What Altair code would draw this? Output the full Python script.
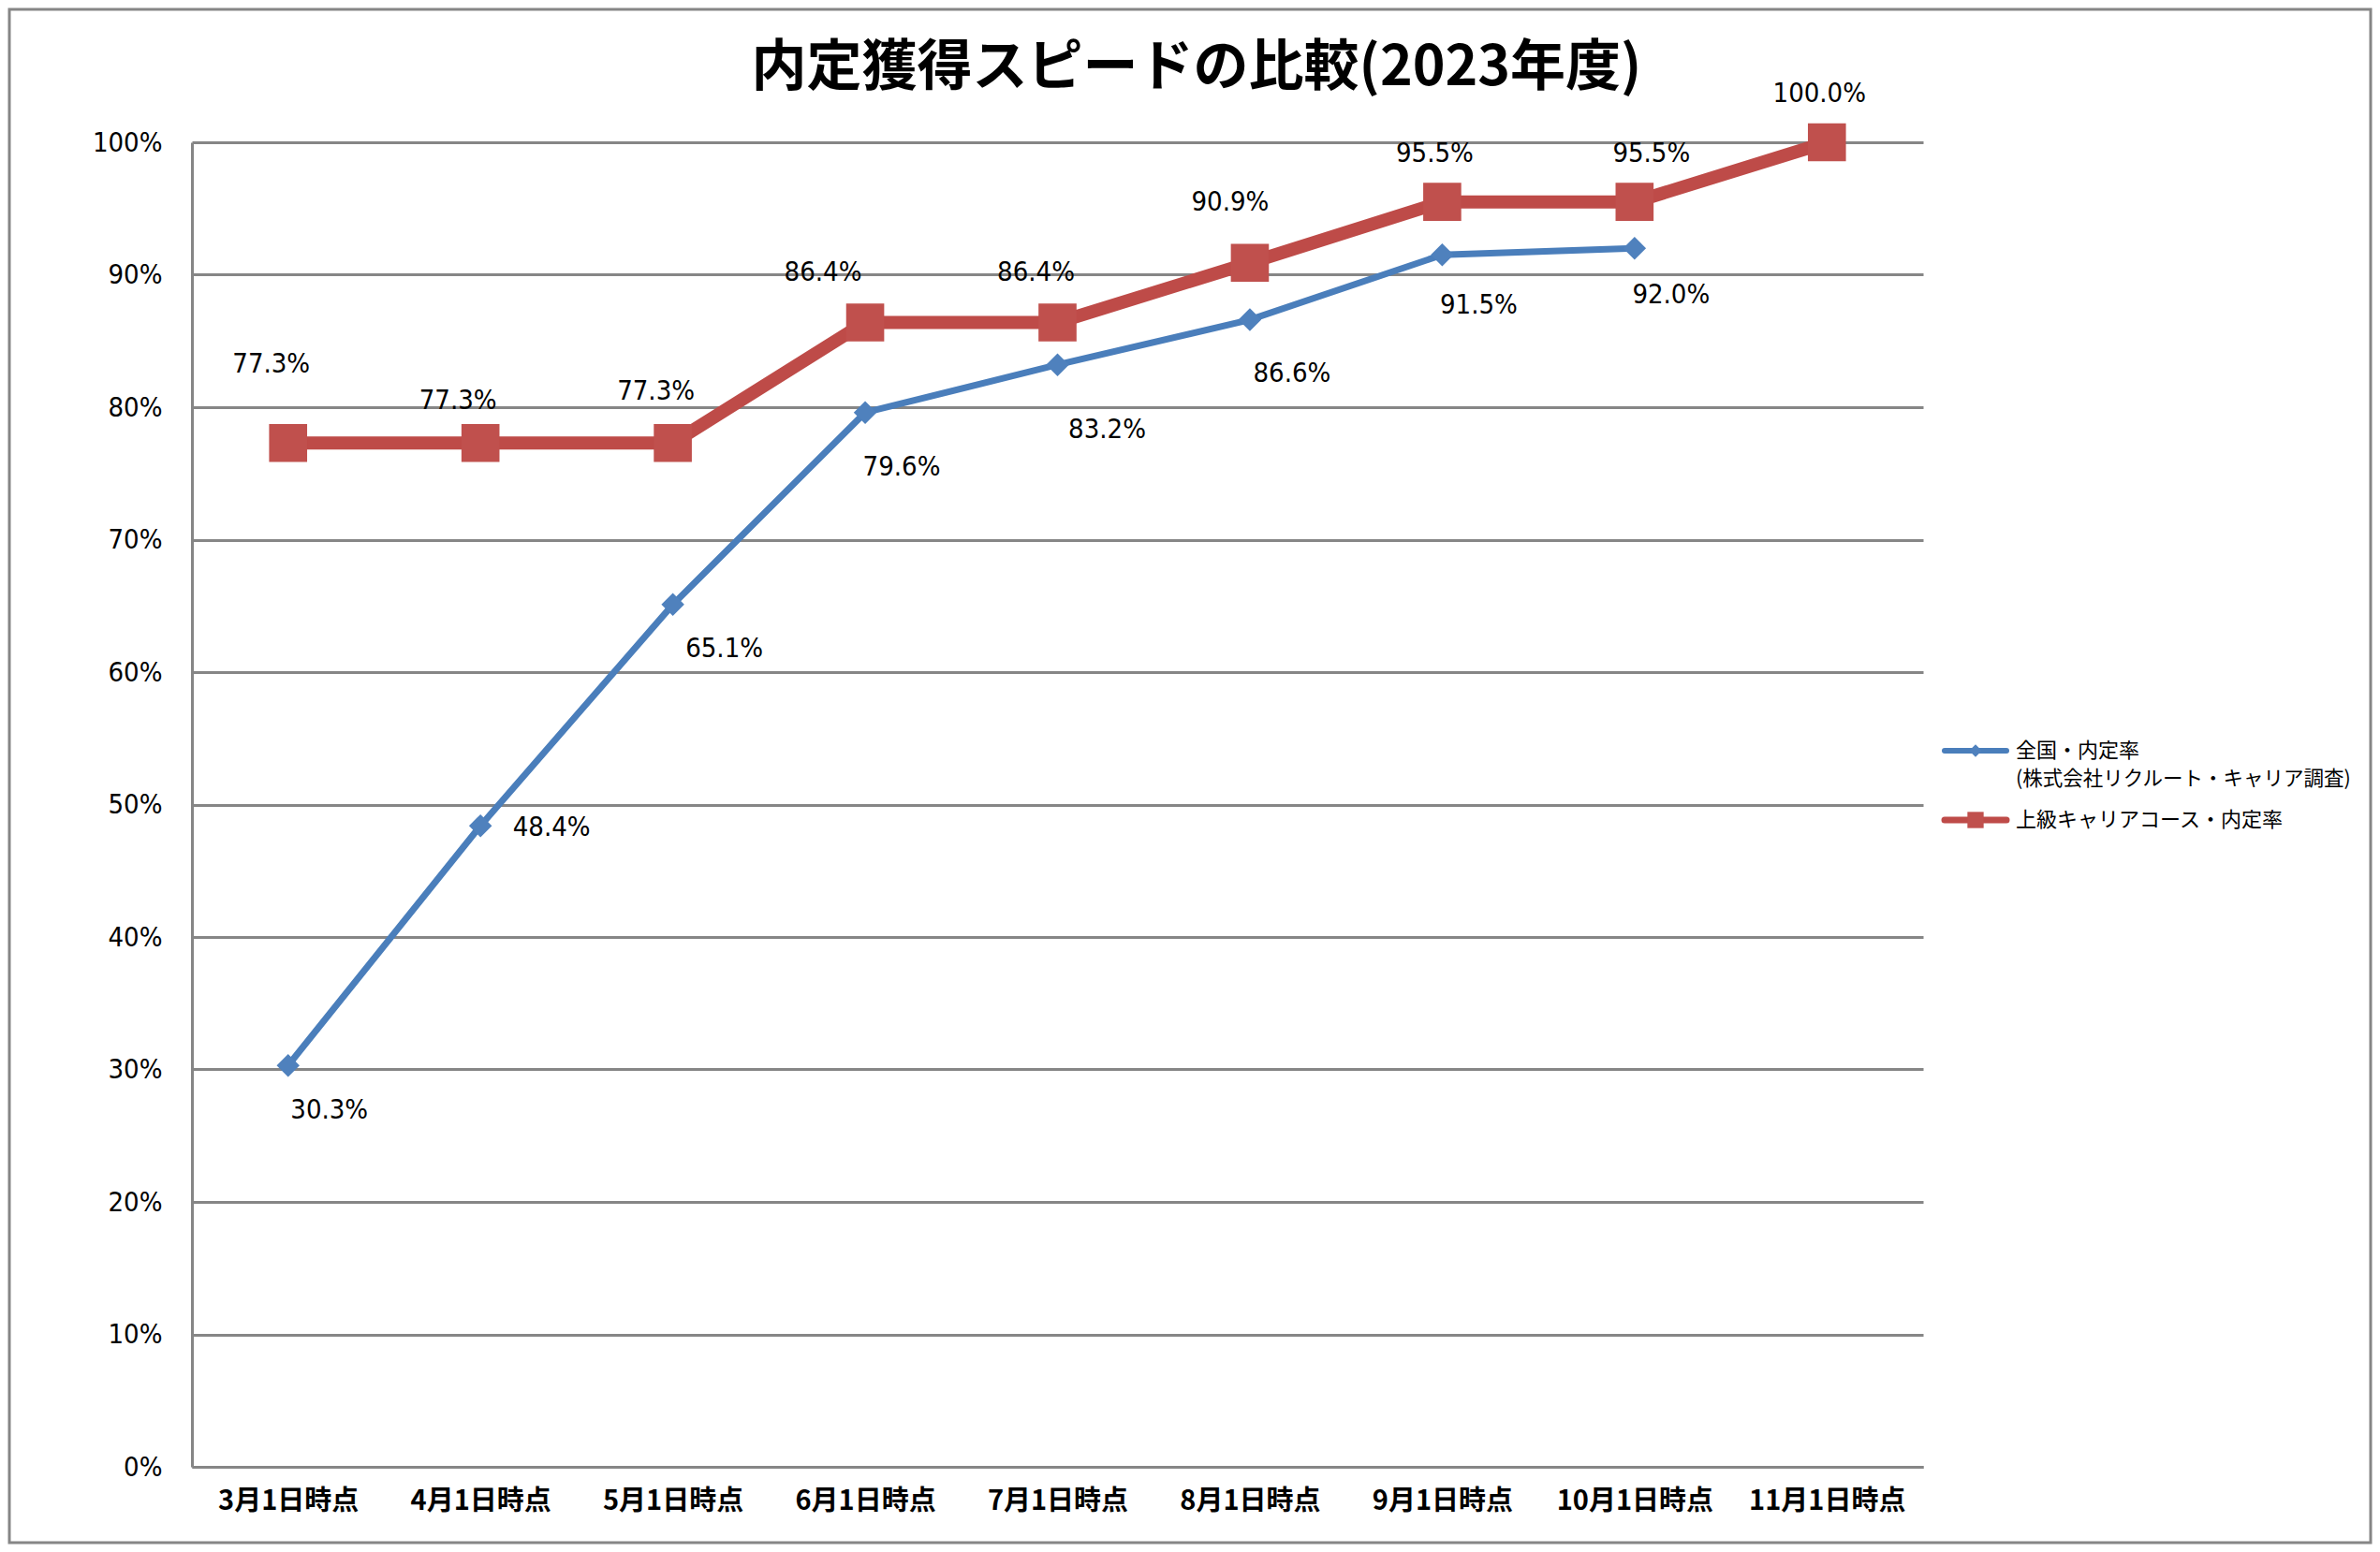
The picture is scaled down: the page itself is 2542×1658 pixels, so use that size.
import altair as alt
import pandas as pd

# ---------------- data ----------------
categories = ["3月1日時点", "4月1日時点", "5月1日時点", "6月1日時点", "7月1日時点",
              "8月1日時点", "9月1日時点", "10月1日時点", "11月1日時点"]
national_values = [0.303, 0.484, 0.651, 0.796, 0.832, 0.866, 0.915, 0.920]
advanced_values = [0.773, 0.773, 0.773, 0.864, 0.864, 0.909, 0.955, 0.955, 1.000]
series_national = ["全国・内定率", "(株式会社リクルート・キャリア調査)"]
series_advanced = "上級キャリアコース・内定率"
title_text = "内定獲得スピードの比較(2023年度)"
y_ticks = [0, 0.1, 0.2, 0.3, 0.4, 0.5, 0.6, 0.7, 0.8, 0.9, 1.0]

# data-label placement offsets in pixels (layout only)
national_label_dx = [44, 76, 55, 39, 53, 45, 39, 39]
national_label_dy = [48, 2, 47, 58, 69, 57, 54, 50]
advanced_label_dx = [-18, -24, -18, -45, -23, -21, -8, 18, -8]
advanced_label_dy = [-84, -45, -55, -53, -53, -65, -52, -52, -52]

# ---------------- styles ----------------
BLUE_LINE = "#4A7EBB"
BLUE_MARK = "#4F81BD"
RED_LINE = "#BE4B48"
RED_MARK = "#C0504D"
GRID = "#868686"
NUM_FONT = "DejaVu Sans Condensed, DejaVu Sans"
JP_FONT = "Noto Sans CJK JP"

W, H = 1849, 1415

nat_df = pd.DataFrame({
    "cat": categories[:len(national_values)],
    "value": national_values,
    "dx": national_label_dx,
    "dy": national_label_dy,
})
adv_df = pd.DataFrame({
    "cat": categories,
    "value": advanced_values,
    "dx": advanced_label_dx,
    "dy": advanced_label_dy,
})

y_scale = alt.Scale(domain=[0, 1], nice=False, zero=True)
y_axis = alt.Axis(
    title=None, values=y_ticks, format=".0%", ticks=False,
    grid=True, gridColor=GRID, gridWidth=3,
    domainColor=GRID, domainWidth=3,
    labelFont=NUM_FONT, labelFontSize=29, labelColor="#000000",
    labelPadding=32,
)

x_enc = alt.X(
    "cat:N",
    sort=categories,
    scale=alt.Scale(type="point", domain=categories, padding=0.5),
    axis=alt.Axis(
        title=None, labelAngle=0, ticks=False, grid=False,
        domainColor=GRID, domainWidth=3,
        labelFont=JP_FONT, labelFontSize=29, labelFontWeight="bold",
        labelColor="#000000", labelPadding=22, labelOverlap=False, labelFlush=False,
    ),
)
y_enc = alt.Y("value:Q", scale=y_scale, axis=y_axis)
y_label_enc = alt.Y("label_y:Q", scale=y_scale, axis=y_axis)

nat_base = alt.Chart(nat_df).encode(x=x_enc, y=y_enc)
adv_base = alt.Chart(adv_df).encode(x=x_enc, y=y_enc)


def labels(df):
    return alt.Chart(df).transform_calculate(
        label_y=f"datum.value - datum.dy / {H}"
    ).mark_text(font=NUM_FONT, fontSize=29, color="#000000",
                align="center", baseline="middle").encode(
        x=x_enc,
        y=y_label_enc,
        text=alt.Text("value:Q", format=".1%"),
        xOffset=alt.XOffset("dx:Q", scale=None),
    )


nat_line = nat_base.mark_line(color=BLUE_LINE, strokeWidth=7)
nat_pts = nat_base.mark_point(shape="diamond", filled=True, size=600, color=BLUE_MARK, opacity=1)
nat_txt = labels(nat_df)

adv_line = adv_base.mark_line(color=RED_LINE, strokeWidth=14)
adv_pts = adv_base.mark_point(shape="square", filled=True, size=1650, color=RED_MARK, opacity=1)
adv_txt = labels(adv_df)

# ---------------- title, legend, border ----------------
one = pd.DataFrame({"k": [0]})
leg = alt.Chart(one)

title = leg.mark_text(font=JP_FONT, fontSize=59, fontWeight="bold", color="#000000",
                      align="center", baseline="middle").encode(
    x=alt.value(1073), y=alt.value(-79), text=alt.value(title_text))

leg_nat_rule = leg.mark_rule(color=BLUE_LINE, strokeWidth=6, strokeCap="round").encode(
    x=alt.value(1872), x2=alt.value(1938), y=alt.value(650))
leg_nat_pt = leg.mark_point(shape="diamond", filled=True, size=180, color=BLUE_MARK, opacity=1).encode(
    x=alt.value(1905), y=alt.value(650))
leg_nat_txt1 = leg.mark_text(font=JP_FONT, fontSize=22, align="left", baseline="middle", color="#000000").encode(
    x=alt.value(1948), y=alt.value(650), text=alt.value(series_national[0]))
leg_nat_txt2 = leg.mark_text(font=JP_FONT, fontSize=21.5, align="left", baseline="middle", color="#000000").encode(
    x=alt.value(1948), y=alt.value(681), text=alt.value(series_national[1]))

leg_adv_rule = leg.mark_rule(color=RED_LINE, strokeWidth=7, strokeCap="round").encode(
    x=alt.value(1872), x2=alt.value(1938), y=alt.value(724))
leg_adv_pt = leg.mark_point(shape="square", filled=True, size=300, color=RED_MARK, opacity=1).encode(
    x=alt.value(1905), y=alt.value(724))
leg_adv_txt = leg.mark_text(font=JP_FONT, fontSize=22, align="left", baseline="middle", color="#000000").encode(
    x=alt.value(1948), y=alt.value(724), text=alt.value(series_advanced))

border = leg.mark_rect(fillOpacity=0, stroke=GRID, strokeWidth=3).encode(
    x=alt.value(-195), x2=alt.value(2327), y=alt.value(-142), y2=alt.value(1496))

chart = alt.layer(
    border,
    nat_line, nat_pts,
    adv_line, adv_pts,
    nat_txt, adv_txt,
    title,
    leg_nat_rule, leg_nat_pt, leg_nat_txt1, leg_nat_txt2,
    leg_adv_rule, leg_adv_pt, leg_adv_txt,
).properties(
    width=W, height=H,
    autosize=alt.AutoSizeParams(type="none"),
    padding={"left": 197, "top": 144, "right": 480, "bottom": 83},
    background="#FFFFFF",
).configure_view(strokeWidth=0)

chart.save("out.html", embed_options={"renderer": "svg", "actions": False})
